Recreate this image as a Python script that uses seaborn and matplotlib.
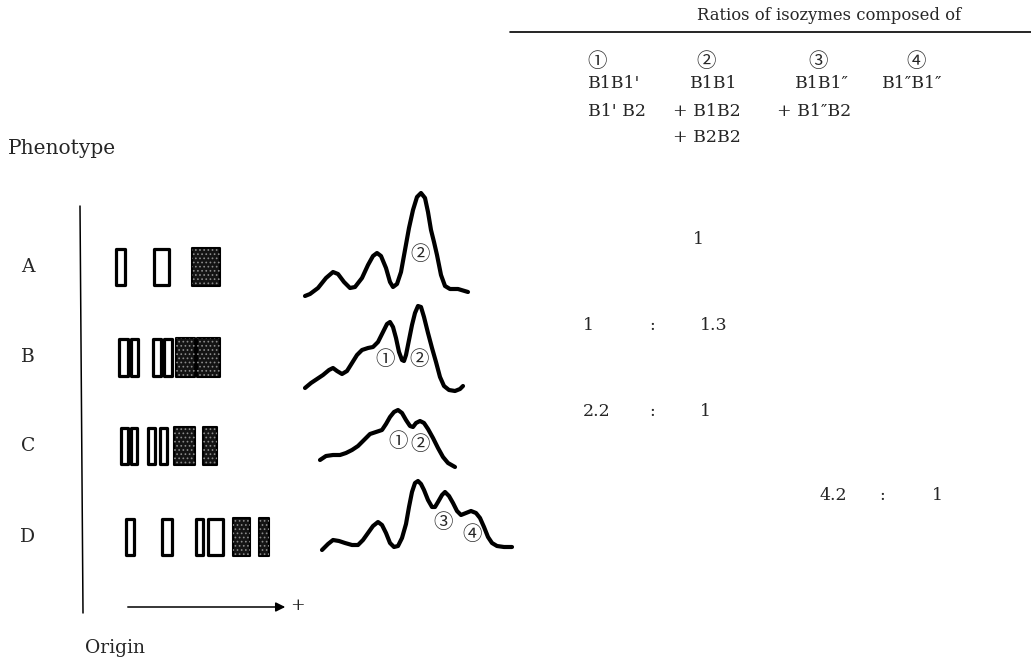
import matplotlib
matplotlib.use("Agg")
import matplotlib.pyplot as plt
import seaborn as sns
from matplotlib.patches import Rectangle

# phenotypes, band pattern and densitometer traces
phenotypes = ["A", "B", "C", "D"]
band_top = [248, 338, 427, 518]
band_bottom = [286, 377, 465, 556]
# (left, right, stained) per band
bands_A = [(115, 126, 0), (153, 170, 0), (192, 220, 1)]
bands_B = [(118, 129, 0), (130, 139, 0), (152, 162, 0), (163, 173, 0), (176, 195, 1), (197, 220, 1)]
bands_C = [(120, 129, 0), (130, 138, 0), (147, 156, 0), (159, 168, 0), (174, 195, 1), (203, 217, 1)]
bands_D = [(125, 135, 0), (161, 173, 0), (195, 204, 0), (207, 224, 0), (233, 250, 1), (259, 269, 1)]
bands = [bands_A, bands_B, bands_C, bands_D]

peak_A_x = [305, 310, 318, 326, 333, 338, 344, 350, 355, 362, 368, 373, 377, 381, 386, 390, 393,
            397, 401, 405, 409, 413, 417, 421, 425, 428, 431, 434, 437, 441, 445, 450, 458, 468]
peak_A_y = [296, 294, 288, 278, 272, 274, 282, 288, 287, 278, 265, 256, 253, 256, 268, 282, 287,
            284, 272, 250, 228, 210, 197, 193, 198, 212, 230, 242, 255, 275, 286, 289, 289, 292]
peak_B_x = [305, 311, 317, 323, 329, 333, 337, 342, 347, 352, 357, 362, 368, 373, 378, 383, 387, 390,
            393, 396, 399, 402, 404, 406, 409, 412, 415, 418, 421, 424, 428, 432, 436, 440, 444, 449,
            455, 460, 463]
peak_B_y = [388, 383, 379, 375, 370, 368, 371, 374, 371, 363, 355, 350, 348, 347, 342, 332, 324, 322,
            327, 338, 352, 360, 361, 355, 340, 325, 313, 306, 307, 317, 333, 348, 362, 377, 386, 390,
            391, 389, 386]
peak_C_x = [320, 326, 333, 340, 346, 352, 358, 364, 370, 376, 382, 386, 390, 394, 398, 402, 406, 410,
            413, 416, 420, 424, 428, 433, 438, 443, 448, 455]
peak_C_y = [460, 456, 455, 455, 453, 450, 446, 440, 434, 432, 430, 424, 417, 412, 410, 413, 420, 426,
            427, 423, 421, 423, 429, 438, 448, 457, 463, 467]
peak_D_x = [322, 328, 333, 339, 345, 352, 358, 363, 368, 373, 378, 382, 386, 390, 394, 398, 402, 406,
            409, 412, 415, 418, 421, 424, 428, 432, 435, 438, 442, 445, 449, 453, 457, 461, 466, 471,
            476, 480, 484, 488, 492, 497, 504, 512]
peak_D_y = [550, 544, 540, 541, 543, 545, 545, 540, 533, 526, 522, 525, 533, 543, 547, 546, 538, 524,
            507, 492, 483, 481, 484, 490, 500, 507, 507, 502, 495, 492, 496, 503, 511, 515, 513, 511,
            513, 518, 527, 537, 543, 546, 547, 547]
peaks_x = [peak_A_x, peak_B_x, peak_C_x, peak_D_x]
peaks_y = [peak_A_y, peak_B_y, peak_C_y, peak_D_y]

# isozyme groups and ratio table
circled = ["\u2460", "\u2461", "\u2462", "\u2463"]
group_lines = [["B1B1'", "B1' B2"],
               ["B1B1", "+ B1B2", "+ B2B2"],
               ["B1B1\u2033", "+ B1\u2033B2"],
               ["B1\u2033B1\u2033"]]
ratio_text = [["", "1"], ["1", "1.3"], ["2.2", "1"], ["4.2", "1"]]

sns.set_style("white")
plt.rcParams["font.family"] = ["DejaVu Serif", "Noto Sans CJK JP", "DejaVu Sans"]
plt.rcParams["hatch.linewidth"] = 0.7

fig = plt.figure(figsize=(10.31, 6.59), dpi=100)
ax = fig.add_axes([0, 0, 1, 1])
ax.set_xlim(0, 1031)
ax.set_ylim(659, 0)
ax.axis("off")

fs = 12.5
cfs = 14

# header
ax.text(697, 15, "Ratios of isozymes composed of", fontsize=11.8, va="center", ha="left")
ax.plot([510, 1031], [32, 32], color="black", lw=1.2)
circ_x = [597, 706, 818, 916]
col_x = [[588, 588], [690, 673, 673], [795, 777], [882]]
for i in range(4):
    ax.text(circ_x[i], 62, circled[i], fontsize=cfs, va="center", ha="center")
    for j, line in enumerate(group_lines[i]):
        ax.text(col_x[i][j], 84 + 27 * j, line, fontsize=fs, va="center", ha="left")

ax.text(8, 148, "Phenotype", fontsize=14.5, va="center", ha="left")
ax.text(85, 648, "Origin", fontsize=fs + 1, va="center", ha="left")

# origin line and direction arrow
ax.plot([80, 83], [206, 613], color="black", lw=1.1)
ax.annotate("", xy=(288, 607), xytext=(125, 607),
            arrowprops=dict(arrowstyle="-|>", color="black", lw=1.1, mutation_scale=14))
ax.text(297, 606, "+", fontsize=fs, va="center", ha="center")

for r, name in enumerate(phenotypes):
    yc = (band_top[r] + band_bottom[r]) / 2
    ax.text(28, yc, name, fontsize=fs + 1, va="center", ha="center")
    h = band_bottom[r] - band_top[r]
    for left, right, stained in bands[r]:
        if stained:
            ax.add_patch(Rectangle((left, band_top[r]), right - left, h, facecolor="#141414",
                                   edgecolor="black", lw=1.5, joinstyle="round"))
            ax.add_patch(Rectangle((left, band_top[r]), right - left, h, facecolor="none",
                                   edgecolor="#8a8a8a", lw=0, hatch="...."))
        else:
            ax.add_patch(Rectangle((left + 1, band_top[r] + 1), right - left - 2, h - 2,
                                   facecolor="white", edgecolor="black", lw=2.3, joinstyle="round"))
    sns.lineplot(x=peaks_x[r], y=peaks_y[r], sort=False, color="black", lw=3,
                 estimator=None, solid_joinstyle="round", solid_capstyle="round", ax=ax)

# circled numbers on the traces
marks = [(420, 255, 1), (385, 360, 0), (419, 360, 1), (398, 442, 0), (420, 445, 1),
         (443, 523, 2), (472, 535, 3)]
for x, y, k in marks:
    ax.text(x, y, circled[k], fontsize=cfs, va="center", ha="center")

# ratio table
ratio_y = [240, 325, 412, 496]
ratio_x = [[583, 700], [583, 700], [583, 700], [820, 932]]
colon_x = [None, 652, 652, 882]
for r in range(4):
    a, b = ratio_text[r]
    if a:
        ax.text(ratio_x[r][0], ratio_y[r], a, fontsize=fs, va="center", ha="left")
        ax.text(colon_x[r], ratio_y[r], ":", fontsize=fs, va="center", ha="center")
        ax.text(ratio_x[r][1], ratio_y[r], b, fontsize=fs, va="center", ha="left")
    else:
        ax.text(693, ratio_y[r], b, fontsize=fs, va="center", ha="left")

fig.savefig("out.png", dpi=100)
